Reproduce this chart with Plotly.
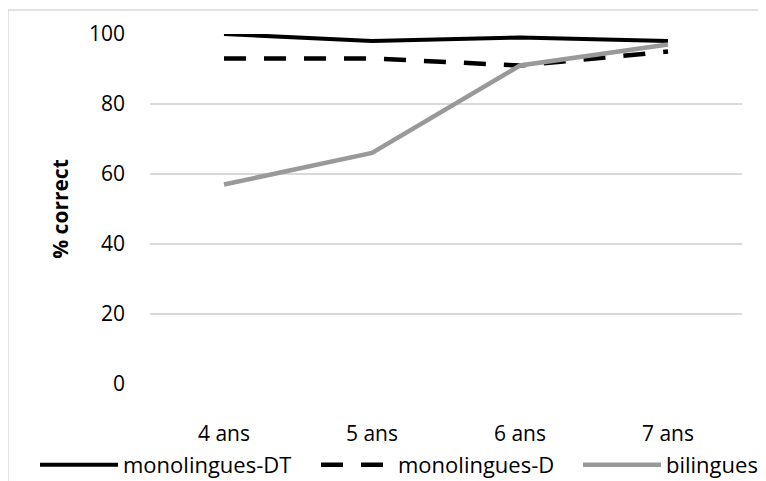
import plotly.graph_objects as go

categories = ["4 ans", "5 ans", "6 ans", "7 ans"]
mono_dt = [100, 98, 99, 98]
mono_d = [93, 93, 91, 95]
bilingues = [57, 66, 91, 97]
y_ticks = [0, 20, 40, 60, 80, 100]

font = "Open Sans, sans-serif"

fig = go.Figure()
fig.add_trace(go.Scatter(x=categories, y=mono_dt, mode="lines", name="monolingues-DT",
                         line=dict(color="#000000", width=4), legend="legend"))
fig.add_trace(go.Scatter(x=categories, y=mono_d, mode="lines", name="monolingues-D",
                         line=dict(color="#000000", width=4.5, dash="22px,18px"), legend="legend2"))
fig.add_trace(go.Scatter(x=categories, y=bilingues, mode="lines", name="bilingues",
                         line=dict(color="#999999", width=4.5), legend="legend3"))

# page has an 8px body margin: figure coordinates are page coordinates minus 8
W, H = 758, 473
ml, mr, mt, mb = 142, 24, 26, 97
pw, ph = W - ml - mr, H - mt - mb
bx = (0 - ml) / pw
by = (H - mb - 2) / ph
fig.add_shape(type="line", xref="paper", yref="paper", x0=bx, x1=bx, y0=-0.5, y1=by,
              line=dict(color="#d9d9d9", width=1.5))
fig.add_shape(type="line", xref="paper", yref="paper", x0=bx, x1=1.2, y0=by, y1=by,
              line=dict(color="#d9d9d9", width=1.5))


def leg(page_x, width):
    return dict(orientation="h", xref="container", yref="container",
                x=(page_x - 8) / W, xanchor="left", y=16 / H, yanchor="middle",
                itemwidth=width, font=dict(size=22), itemsizing="trace",
                bgcolor="rgba(0,0,0,0)", borderwidth=0)


fig.update_layout(
    width=W, height=H,
    margin=dict(l=ml, r=mr, t=mt, b=mb, autoexpand=False),
    plot_bgcolor="white", paper_bgcolor="white",
    font=dict(family=font, size=21, color="#000000"),
    showlegend=True,
    legend=leg(35, 78),
    legend2=leg(316, 72),
    legend3=leg(578, 78),
    xaxis=dict(showgrid=False, showline=False, zeroline=False, ticks="",
               range=[-0.5, 3.5], ticklabelstandoff=35, tickfont=dict(size=21)),
    yaxis=dict(range=[0, 100], tickvals=y_ticks, showgrid=True, gridcolor="#d9d9d9",
               gridwidth=1.5, zeroline=False, showline=False, ticks="",
               ticklabelstandoff=24, tickfont=dict(size=21),
               title=dict(text="<b>% correct</b>", font=dict(size=21), standoff=14)),
)

fig.write_html("out.html")
